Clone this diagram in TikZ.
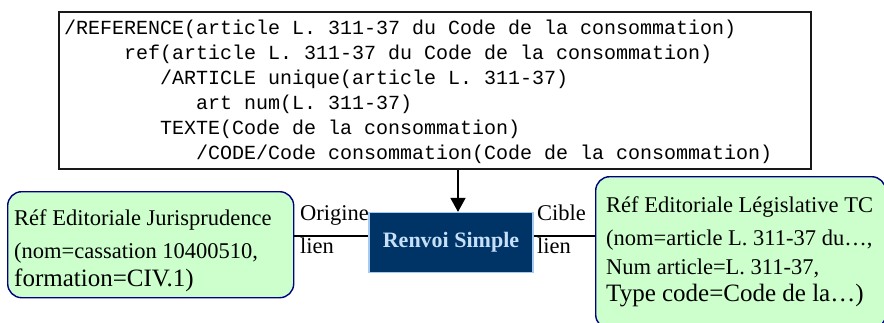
\documentclass[tikz,border=0pt]{standalone}
\usepackage{fontspec}
\setmainfont{Liberation Serif}
\setmonofont{Liberation Mono}
\usetikzlibrary{arrows.meta}
\definecolor{boxgreen}{HTML}{CCFFCC}
\definecolor{navyline}{HTML}{000080}
\definecolor{renvoifill}{HTML}{003366}
\definecolor{renvoitext}{HTML}{C6E0FA}
\definecolor{renvoiborder}{HTML}{A6CAF0}
\tikzset{
  codebox/.style={draw=black!90, line width=1.5pt, fill=white, inner sep=0pt, anchor=north west},
  codetext/.style={inner sep=0pt, anchor=base west, font=\fontsize{20}{22}\selectfont\ttfamily},
  greenbox/.style={draw=navyline, line width=1.4pt, fill=boxgreen, rounded corners=14pt, inner sep=0pt, anchor=north west},
  gtext/.style={inner sep=0pt, anchor=base west, font=\fontsize{22.5}{26}\selectfont},
  gtextbig/.style={inner sep=0pt, anchor=base west, font=\fontsize{25}{28}\selectfont},
  renvoibox/.style={draw=renvoiborder, line width=1.2pt, fill=renvoifill, text=renvoitext, inner sep=0pt,
    minimum width=164pt, minimum height=60pt, font=\fontsize{22}{26}\selectfont\bfseries},
  linklabel/.style={inner sep=0pt, anchor=base west, font=\fontsize{22.5}{26}\selectfont},
  conn/.style={draw=black, line width=1.4pt},
  arr/.style={draw=black, line width=1.5pt, -{Triangle[width=15pt,length=14pt]}}
}
\frenchspacing
\begin{document}
\begin{tikzpicture}[x=1pt,y=-1pt]
\useasboundingbox (0,0) rectangle (884,322);
\begin{scope}
\clip (0,0) rectangle (884,322);
% top code box
\node[codebox, minimum width=752pt, minimum height=157pt] (ref) at (58,11) {};
\node[codetext] (c1) at (64,34) {/REFERENCE(article L. 311-37 du Code de la consommation)};
\node[codetext] (c2) at (124,59) {ref(article L. 311-37 du Code de la consommation)};
\node[codetext] (c3) at (160,84) {/ARTICLE unique(article L. 311-37)};
\node[codetext] (c4) at (196,109) {art num(L. 311-37)};
\node[codetext] (c5) at (160,134) {TEXTE(Code de la consommation)};
\node[codetext] (c6) at (196,159) {/CODE/Code consommation(Code de la consommation)};

% left green box
\node[greenbox, minimum width=286pt, minimum height=106pt] (jur) at (7,191) {};
\node[gtext] (j1) at (14,225) {Réf Editoriale Jurisprudence};
\node[gtext] (j2) at (14,258) {(nom=cassation 10400510,};
\node[gtextbig] (j3) at (14,286) {formation=CIV.1)};

% right green box
\node[greenbox, minimum width=290pt, minimum height=152pt] (leg) at (595,176) {};
\node[gtext] (g1) at (606,212) {Réf Editoriale Législative TC};
\node[gtext] (g2) at (606,245) {(nom=article L. 311-37 du…,};
\node[gtext] (g3) at (606,274) {Num article=L. 311-37,};
\node[gtextbig] (g4) at (606,301) {Type code=Code de la…)};

% central node
\node[renvoibox] (renvoi) at (451,242.5) {Renvoi Simple};

% connectors
\coordinate (ly) at (0,236);
\coordinate (ax) at (458,0);
\draw[conn] (jur.east |- ly) -- (renvoi.west |- ly);
\draw[conn] (renvoi.east |- ly) -- (leg.west |- ly);
\draw[arr] (ref.south -| ax) -- (renvoi.north -| ax);

% labels
\node[linklabel] (o1) at (300,220) {Origine};
\node[linklabel] (o2) at (300,253) {lien};
\node[linklabel] (t1) at (537,220) {Cible};
\node[linklabel] (t2) at (537,253) {lien};
\end{scope}
\end{tikzpicture}
\end{document}
